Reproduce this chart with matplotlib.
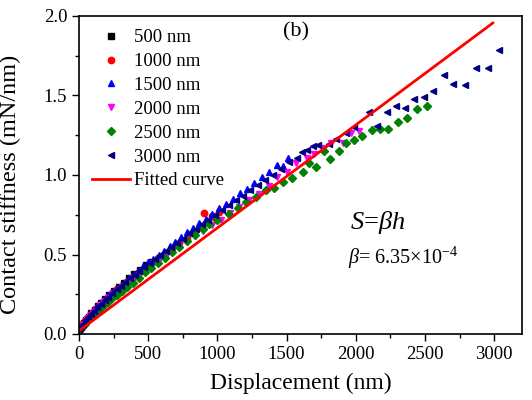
import matplotlib
matplotlib.use('Agg')
import matplotlib.pyplot as plt
from matplotlib.ticker import MultipleLocator

plt.rcParams['font.family'] = ['Liberation Serif', 'DejaVu Serif']
plt.rcParams['mathtext.fontset'] = 'custom'
plt.rcParams['mathtext.rm'] = 'Liberation Serif'
plt.rcParams['mathtext.it'] = 'Liberation Serif:italic'

# data (displacement nm, stiffness mN/nm)
s500_x = [0, 10, 22, 36, 52, 70, 90, 112, 136, 162, 190, 220, 252, 286, 322, 360, 400, 442, 486, 520]
s500_y = [0.03, 0.04, 0.055, 0.07, 0.09, 0.11, 0.13, 0.15, 0.175, 0.195, 0.22, 0.245, 0.27, 0.295, 0.32,
          0.35, 0.375, 0.405, 0.435, 0.455]

s1000_x = [0, 10, 24, 40, 58, 78, 100, 124, 150, 178, 208, 240, 274, 310, 348, 388, 430, 474, 520, 568,
           618, 670, 724, 780, 838, 878, 906, 960, 1010]
s1000_y = [0.03, 0.04, 0.06, 0.08, 0.1, 0.12, 0.14, 0.16, 0.185, 0.21, 0.23, 0.255, 0.28, 0.305, 0.33,
           0.36, 0.39, 0.415, 0.445, 0.475, 0.505, 0.54, 0.57, 0.605, 0.645, 0.67, 0.76, 0.74, 0.77]

s1500_x = [0, 8, 20, 35, 52, 70, 90, 112, 135, 160, 186, 213, 241, 270, 300, 331, 363, 396, 430, 465,
           501, 538, 576, 615, 655, 696, 738, 781, 825, 870, 916, 963, 1011, 1060, 1110, 1161, 1213, 1266,
           1320, 1375, 1431, 1473, 1510]
s1500_y = [0.03, 0.04, 0.055, 0.075, 0.095, 0.115, 0.135, 0.155, 0.18, 0.2, 0.22, 0.245, 0.265, 0.285,
           0.305, 0.33, 0.355, 0.375, 0.4, 0.425, 0.45, 0.47, 0.5, 0.525, 0.555, 0.58, 0.61, 0.64, 0.665,
           0.695, 0.725, 0.755, 0.79, 0.82, 0.85, 0.885, 0.915, 0.95, 0.985, 1.02, 1.06, 1.057, 1.11]

s2000_x = [0, 10, 24, 40, 58, 78, 100, 124, 150, 178, 208, 240, 274, 310, 348, 388, 430, 474, 520, 568,
           618, 670, 724, 780, 838, 898, 960, 1024, 1090, 1158, 1228, 1300, 1374, 1430, 1500, 1570, 1647,
           1700, 1763, 1824, 1908, 1968, 2024]
s2000_y = [0.03, 0.04, 0.055, 0.075, 0.095, 0.115, 0.135, 0.155, 0.18, 0.2, 0.225, 0.25, 0.27, 0.295,
           0.32, 0.345, 0.375, 0.4, 0.43, 0.455, 0.485, 0.515, 0.545, 0.58, 0.615, 0.65, 0.685, 0.72, 0.76,
           0.8, 0.84, 0.88, 0.93, 0.985, 1.02, 1.078, 1.105, 1.13, 1.168, 1.204, 1.204, 1.264, 1.274]

s2500_x = [0, 10, 24, 40, 58, 78, 100, 124, 150, 178, 208, 240, 274, 310, 348, 388, 430, 474, 520, 568,
           618, 670, 724, 780, 838, 898, 942, 1000, 1087, 1150, 1208, 1280, 1353, 1410, 1473, 1540, 1618,
           1662, 1715, 1768, 1816, 1877, 1932, 1988, 2048, 2114, 2174, 2234, 2302, 2367, 2440, 2512]
s2500_y = [0.02, 0.03, 0.045, 0.065, 0.085, 0.1, 0.12, 0.14, 0.16, 0.18, 0.2, 0.225, 0.245, 0.27, 0.295,
           0.32, 0.35, 0.39, 0.415, 0.445, 0.48, 0.515, 0.55, 0.585, 0.62, 0.66, 0.69, 0.715, 0.757, 0.79,
           0.83, 0.86, 0.905, 0.92, 0.958, 0.98, 1.02, 1.074, 1.053, 1.148, 1.10, 1.148, 1.20, 1.22, 1.243,
           1.28, 1.29, 1.289, 1.335, 1.359, 1.418, 1.437]

s3000_x = [0, 12, 28, 45, 65, 85, 108, 132, 158, 185, 213, 242, 272, 303, 335, 368, 402, 437, 473, 510,
           548, 587, 627, 668, 710, 753, 797, 842, 888, 935, 983, 1032, 1082, 1133, 1185, 1238, 1292, 1347,
           1403, 1460, 1518, 1577, 1613, 1650, 1690, 1730, 1807, 1860, 1932, 1988, 2097, 2155, 2222, 2287,
           2358, 2423, 2493, 2560, 2638, 2705, 2790, 2867, 2952, 3031]
s3000_y = [0.03, 0.045, 0.065, 0.085, 0.105, 0.125, 0.147, 0.17, 0.19, 0.213, 0.235, 0.255, 0.28, 0.30,
           0.325, 0.35, 0.372, 0.395, 0.42, 0.445, 0.47, 0.495, 0.52, 0.55, 0.575, 0.60, 0.635, 0.66, 0.69,
           0.72, 0.75, 0.78, 0.81, 0.84, 0.87, 0.905, 0.935, 0.97, 1.0, 1.04, 1.08, 1.11, 1.147, 1.16, 1.18,
           1.19, 1.196, 1.226, 1.264, 1.30, 1.395, 1.31, 1.397, 1.437, 1.42, 1.475, 1.49, 1.53, 1.627, 1.57,
           1.563, 1.67, 1.675, 1.787]

fit_x = [0, 2990]
fit_y = [0.02, 1.956]

series = [
    (s500_x, s500_y, '500 nm', 'black', 's'),
    (s1000_x, s1000_y, '1000 nm', 'red', 'o'),
    (s1500_x, s1500_y, '1500 nm', 'blue', '^'),
    (s2000_x, s2000_y, '2000 nm', 'magenta', 'v'),
    (s2500_x, s2500_y, '2500 nm', 'green', 'D'),
    (s3000_x, s3000_y, '3000 nm', 'navy', '<'),
]

fig = plt.figure(figsize=(5.32, 4.0), dpi=100)
ax = fig.add_axes([0.1485, 0.165, 0.8325, 0.795])

for x, y, lab, col, mk in series:
    ms = 3.6 if mk == 'D' else 4.6
    ax.plot(x, y, linestyle='none', marker=mk, color=col, markersize=ms, label=lab)
ax.plot(fit_x, fit_y, color='red', linewidth=2, label='Fitted curve')

ax.set_xlim(0, 3200)
ax.set_ylim(0, 2.0)
ax.xaxis.set_major_locator(MultipleLocator(500))
ax.xaxis.set_minor_locator(MultipleLocator(250))
ax.yaxis.set_major_locator(MultipleLocator(0.5))
ax.yaxis.set_minor_locator(MultipleLocator(0.25))
ax.tick_params(which='both', direction='out', top=False, right=False, labelsize=13.5, width=1)
ax.tick_params(which='major', length=5)
ax.tick_params(which='minor', length=3)
for sp in ax.spines.values():
    sp.set_linewidth(1.2)

ax.set_xlabel('Displacement (nm)', fontsize=17, labelpad=7)
ax.set_ylabel('Contact stiffness (mN/nm)', fontsize=17.5)
ax.yaxis.set_label_coords(-0.13, 0.47)

ax.legend(loc='upper left', frameon=False, fontsize=13.5, labelspacing=0.36, handlelength=2.0,
          handletextpad=0.25, borderaxespad=0.35, borderpad=0.35, markerscale=1.0)

ax.text(0.49, 0.98, '(b)', transform=ax.transAxes, fontsize=16, ha='center', va='top')
ax.text(0.613, 0.35, r'$S$=$\beta h$', transform=ax.transAxes, fontsize=19, ha='left', va='center')
ax.text(0.608, 0.24, r'$\beta$= 6.35×10$^{-4}$', transform=ax.transAxes, fontsize=14.5,
        ha='left', va='center')

fig.savefig('out.png', dpi=100)
